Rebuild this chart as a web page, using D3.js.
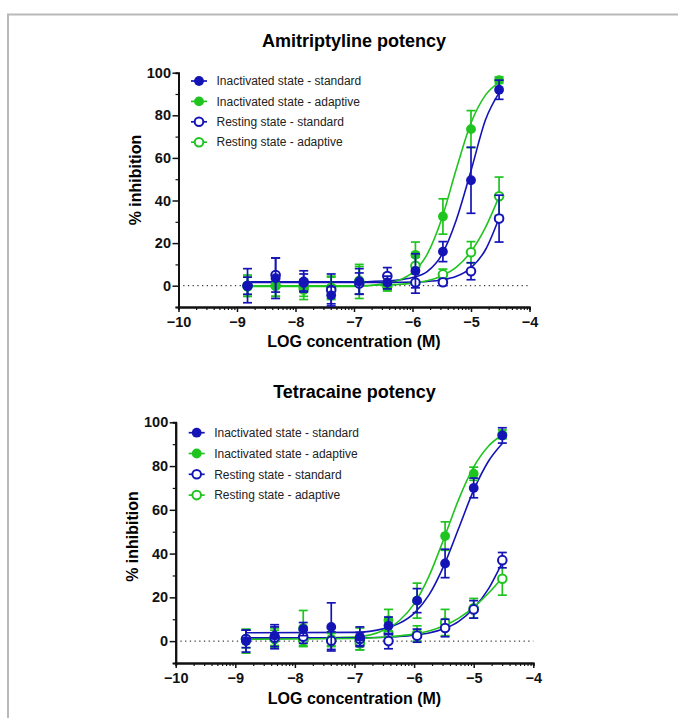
<!DOCTYPE html>
<html>
<head>
<meta charset="utf-8">
<title>potency curves</title>
<style>
body { margin: 0; background: #fff; }
svg { display: block; font-family: "Liberation Sans", Arial, sans-serif; }
.title { font-size: 18px; font-weight: bold; }
.axis-title { font-size: 16px; font-weight: bold; }
.axis text { font-size: 14.5px; font-weight: bold; fill: #111; font-family: "Liberation Sans", Arial, sans-serif; }
.axis .domain { stroke: #111; stroke-width: 2; }
.axis line { stroke: #111; stroke-width: 1.5; }
.minor line { stroke-width: 1.2; }
.legend text { font-size: 12px; fill: #222; }
</style>
</head>
<body>
<script src="https://cdn.jsdelivr.net/npm/d3@7/dist/d3.min.js"></script>
<script>

var width = 678,
    height = 718

var blue = '#1414b6',
    green = '#1fc41f'

// log10 of the 3-fold dilution series (M)
var logConc = [-8.82, -8.34, -7.86, -7.39, -6.91, -6.43, -5.95, -5.48, -5.0, -4.52]
var seriesNames = ['Inactivated state - standard', 'Inactivated state - adaptive',
                   'Resting state - standard', 'Resting state - adaptive']
var xTicks = [-10, -9, -8, -7, -6, -5, -4]
var yTicks = [0, 20, 40, 60, 80, 100]
var yMinorTicks = [-10, 10, 30, 50, 70, 90]

// Amitriptyline: mean % inhibition and error
var amiInactStd     = [0, 3.5, 2, -4.5, 2, 1.5, 7, 16, 49.5, 92]
var amiInactStdErr  = [8, 9.5, 5, 4, 6, 3, 8, 4.7, 15.5, 4.5]
var amiInactAdp     = [-0.5, 0, -2, -1, 2.5, -0.5, 14.5, 32.5, 73.5, 96.5]
var amiInactAdpErr  = [4.5, 5, 4.5, 5.5, 6.5, 2, 6, 8.3, 8.7, 1.5]
var amiRestStd      = [0, 5, 1.5, -2, 1, 4.5, 1.5, 1.6, 6.8, 31.5]
var amiRestStdErr   = [4, 8, 4, 7.5, 5, 4, 5, 1.5, 4, 11]
var amiRestAdp      = [0, 0, -1, -1, 2, 0, 9.4, 5.3, 15.7, 42]
var amiRestAdpErr   = [5, 5, 4, 5, 8, 2, 4, 2.5, 5, 9]

// Tetracaine: mean % inhibition and error
var tetInactStd     = [0, 2.5, 5.5, 6.5, 2, 7, 18.5, 35.5, 70, 94]
var tetInactStdErr  = [5, 5, 3, 11, 4.5, 4, 5.5, 6.5, 4.5, 3.5]
var tetInactAdp     = [0, 2, 6, 1, 1, 9.5, 18.5, 48, 76.5, 94.5]
var tetInactAdpErr  = [5.5, 4, 8, 3, 5, 5, 8, 6.5, 3, 2]
var tetRestStd      = [1, 1.5, 2, 0.2, 1, 0, 2.5, 6, 14.5, 37]
var tetRestStdErr   = [4, 5, 3, 4, 3, 3.5, 3, 4, 4, 3.5]
var tetRestAdp      = [1, 1, 0.5, 0.5, -1, 3.5, 3.5, 8.5, 15, 28.5]
var tetRestAdpErr   = [4, 4, 3, 3, 3, 3, 3.5, 6, 4.5, 7.5]

// fitted curves at these concentrations
var fitX = [-8.82, -7, -6.5, -6.25, -6, -5.75, -5.5, -5.25, -5, -4.75, -4.52]
var amiInactStdFit = [1.8, 1.8, 2.2, 2.6, 3.8, 6.6, 14.5, 31, 54, 78, 90.5]
var amiInactAdpFit = [-0.3, -0.3, 0.9, 2.4, 6.1, 14.7, 31.4, 54.9, 76.4, 89.6, 95.5]
var amiRestStdFit  = [1.5, 1.5, 1.5, 1.6, 1.7, 2.0, 2.7, 4.4, 8.4, 17, 31.8]
var amiRestAdpFit  = [0, 0, 0.3, 0.6, 1.2, 2.3, 4.6, 8.7, 16, 27.5, 41.8]
var tetInactStdFit = [3.8, 4.0, 5.7, 8.1, 12.7, 21.1, 34.5, 51.7, 69, 82.3, 90.3]
var tetInactAdpFit = [1, 1.9, 5.1, 9.3, 17, 29.7, 46.8, 64.9, 79.6, 89.2, 94.2]
var tetRestStdFit  = [1.5, 1.5, 1.8, 2.1, 2.7, 3.7, 5.6, 9, 15, 24, 36]
var tetRestAdpFit  = [0.8, 1.2, 1.8, 2.4, 3.2, 4.6, 7, 10.5, 15.5, 22, 29]

var styles = [
    {color: blue, open: false},
    {color: green, open: false},
    {color: blue, open: true},
    {color: green, open: true}
]

var svg = d3.select('body').append('svg')
    .attr('width', width)
    .attr('height', height)

// page frame
svg.append('path')
    .attr('d', 'M678,14.5H8V718')
    .attr('fill', 'none')
    .attr('stroke', '#b9b9b9')
    .attr('stroke-width', 2)

function minorLogTicks(){
    var t = []
    for (var d = -10; d < -4; d++) {
        for (var k = 2; k < 10; k++) t.push(d + Math.log10(k))
    }
    return t
}

function marker(sel, s){
    sel.attr('r', s.open ? 4.3 : 4.9)
        .attr('fill', s.open ? '#fff' : s.color)
        .attr('stroke', s.color)
        .attr('stroke-width', s.open ? 2 : 0)
}

function drawPanel(p){
    var x = d3.scaleLinear().domain([-10, -4]).range([p.left, p.right])
    var y = d3.scaleLinear().domain([-10, 100]).range([p.bottom, p.top])
    var g = svg.append('g')

    g.append('text')
        .attr('class', 'title')
        .attr('x', (p.left + p.right) / 2)
        .attr('y', p.titleY)
        .attr('text-anchor', 'middle')
        .text(p.title)

    // dotted zero line
    g.append('line')
        .attr('x1', p.left).attr('x2', p.right)
        .attr('y1', y(0)).attr('y2', y(0))
        .attr('stroke', '#111')
        .attr('stroke-dasharray', '1.3,3.4')

    // axes
    g.append('g')
        .attr('class', 'axis minor')
        .attr('transform', 'translate(0,' + p.bottom + ')')
        .call(d3.axisBottom(x).tickValues(minorLogTicks()).tickSize(3).tickFormat(''))
    g.append('g')
        .attr('class', 'axis')
        .attr('transform', 'translate(0,' + p.bottom + ')')
        .call(d3.axisBottom(x).tickValues(xTicks).tickSize(5).tickSizeOuter(0).tickPadding(5).tickFormat(d3.format('d')))
    g.append('g')
        .attr('class', 'axis minor')
        .attr('transform', 'translate(' + p.left + ',0)')
        .call(d3.axisLeft(y).tickValues(yMinorTicks).tickSize(3).tickFormat(''))
    g.append('g')
        .attr('class', 'axis')
        .attr('transform', 'translate(' + p.left + ',0)')
        .call(d3.axisLeft(y).tickValues(yTicks).tickSize(6).tickSizeOuter(0).tickPadding(1.5).tickFormat(d3.format('d')))

    g.append('text')
        .attr('class', 'axis-title')
        .attr('x', (p.left + p.right) / 2)
        .attr('y', p.xTitleY)
        .attr('text-anchor', 'middle')
        .text('LOG concentration (M)')
    g.append('text')
        .attr('class', 'axis-title')
        .attr('transform', 'translate(' + p.yTitleX + ',' + p.yTitleCy + ') rotate(-90)')
        .attr('text-anchor', 'middle')
        .text('% inhibition')

    // fitted curves
    var line = d3.line()
        .x(function(d){ return x(d[0]) })
        .y(function(d){ return y(d[1]) })
        .curve(d3.curveMonotoneX)

    p.fits.forEach(function(f, i){
        g.append('path')
            .datum(d3.zip(fitX, f))
            .attr('d', line)
            .attr('fill', 'none')
            .attr('stroke', styles[i].color)
            .attr('stroke-width', 1.6)
    })

    // points with error bars, drawn green first so blue sits on top
    var order = [3, 1, 2, 0]
    order.forEach(function(i){
        var s = styles[i],
            pts = d3.zip(logConc, p.means[i], p.errs[i])
        var eg = g.append('g').selectAll('g').data(pts).enter().append('g')
            .attr('stroke', s.color)
            .attr('stroke-width', 1.7)
        eg.append('line')
            .attr('x1', function(d){ return x(d[0]) })
            .attr('x2', function(d){ return x(d[0]) })
            .attr('y1', function(d){ return y(d[1] - d[2]) })
            .attr('y2', function(d){ return y(d[1] + d[2]) })
        eg.append('line')
            .attr('x1', function(d){ return x(d[0]) - 4.5 })
            .attr('x2', function(d){ return x(d[0]) + 4.5 })
            .attr('y1', function(d){ return y(d[1] + d[2]) })
            .attr('y2', function(d){ return y(d[1] + d[2]) })
        eg.append('line')
            .attr('x1', function(d){ return x(d[0]) - 4.5 })
            .attr('x2', function(d){ return x(d[0]) + 4.5 })
            .attr('y1', function(d){ return y(d[1] - d[2]) })
            .attr('y2', function(d){ return y(d[1] - d[2]) })
        eg.append('circle')
            .attr('cx', function(d){ return x(d[0]) })
            .attr('cy', function(d){ return y(d[1]) })
            .call(marker, s)
    })

    // legend
    var lg = g.append('g').attr('class', 'legend')
    seriesNames.forEach(function(name, i){
        var s = styles[i],
            ly = p.legendY + i * p.legendStep
        lg.append('line')
            .attr('x1', p.legendX - 8).attr('x2', p.legendX + 8)
            .attr('y1', ly).attr('y2', ly)
            .attr('stroke', s.color)
            .attr('stroke-width', 1.7)
        lg.append('circle')
            .attr('cx', p.legendX).attr('cy', ly)
            .call(marker, s)
        lg.append('text')
            .attr('x', p.legendX + 17.5)
            .attr('y', ly)
            .attr('dy', '0.35em')
            .text(name)
    })
}

drawPanel({
    title: 'Amitriptyline potency',
    left: 178.5, right: 529.5, top: 72.7, bottom: 307,
    titleY: 47, xTitleY: 346.5, yTitleX: 141, yTitleCy: 180,
    legendX: 199, legendY: 81, legendStep: 20.4,
    means: [amiInactStd, amiInactAdp, amiRestStd, amiRestAdp],
    errs: [amiInactStdErr, amiInactAdpErr, amiRestStdErr, amiRestAdpErr],
    fits: [amiInactStdFit, amiInactAdpFit, amiRestStdFit, amiRestAdpFit]
})

drawPanel({
    title: 'Tetracaine potency',
    left: 175.7, right: 533.3, top: 422.3, bottom: 663,
    titleY: 398, xTitleY: 704, yTitleX: 138, yTitleCy: 536.5,
    legendX: 196.7, legendY: 432.7, legendStep: 20.8,
    means: [tetInactStd, tetInactAdp, tetRestStd, tetRestAdp],
    errs: [tetInactStdErr, tetInactAdpErr, tetRestStdErr, tetRestAdpErr],
    fits: [tetInactStdFit, tetInactAdpFit, tetRestStdFit, tetRestAdpFit]
})

</script>
</body>
</html>
